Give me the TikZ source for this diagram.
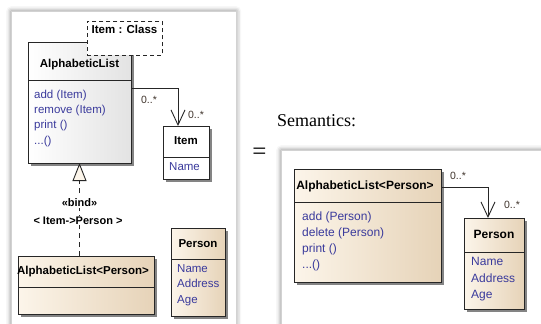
\documentclass[tikz,border=0pt]{standalone}
\usepackage{fontspec}
\setmainfont{Liberation Sans}
\newfontfamily\serifface{Liberation Serif}
\usetikzlibrary{shadows,shadows.blur,arrows.meta}
\definecolor{meth}{HTML}{3A3A9C}
\definecolor{beigeL}{HTML}{FCF5EA}
\definecolor{beigeR}{HTML}{E6D3B8}
\definecolor{mult}{HTML}{40342C}
\tikzset{
  panel/.style={draw=gray!35, fill=white, line width=0.4pt,
    blur shadow={shadow xshift=0pt, shadow yshift=0pt, shadow blur radius=5pt, shadow opacity=50}},
  cbox/.style={draw=black!85, line width=0.9pt, anchor=north west, inner sep=0pt, outer sep=0pt,
    drop shadow={shadow xshift=2.5pt, shadow yshift=-2.5pt, fill=black!60, opacity=0.8}},
  greybox/.style={cbox, left color=white, right color=gray!22},
  whitebox/.style={cbox, fill=white},
  beigebox/.style={cbox, left color=beigeL, right color=beigeR},
  divider/.style={draw=black!85, line width=0.9pt},
  ttl/.style={font=\fontsize{11.5}{13}\selectfont\bfseries, anchor=mid, inner sep=0pt},
  ttlR/.style={font=\fontsize{12}{14}\selectfont\bfseries, anchor=mid, inner sep=0pt},
  mth/.style={font=\fontsize{11.5}{13}\selectfont, text=meth, anchor=mid west, inner sep=0pt},
  mthR/.style={font=\fontsize{12}{14}\selectfont, text=meth, anchor=mid west, inner sep=0pt},
  multl/.style={font=\fontsize{10.5}{12}\selectfont, text=mult, inner sep=0pt},
  assoc/.style={draw=black!85, line width=0.9pt, -{Straight Barb[length=15pt, width=14pt, line width=0.9pt]}},
  realz/.style={draw=black!85, line width=0.9pt, dashed, dash pattern=on 5pt off 4pt,
    -{Triangle[length=18pt, width=14pt, fill=beigeL, line width=0.9pt]}},
  blab/.style={font=\fontsize{11}{13}\selectfont\bfseries, fill=white, inner sep=1pt},
}
\begin{document}
\begin{tikzpicture}[x=1pt,y=-1pt]
\useasboundingbox (0,0) rectangle (541,324);
% panels
\node[panel, anchor=north west, minimum width=225pt, minimum height=330pt, inner sep=0pt] (lpanel) at (11,11) {};
\node[panel, anchor=north west, minimum width=280pt, minimum height=190pt, inner sep=0pt] (rpanel) at (281,150) {};

% ---------- left ----------
\node[greybox, minimum width=103pt, minimum height=121pt] (al) at (28,42) {};
\draw[divider] (al.west |- 0,80) -- (al.east |- 0,80);
\node[ttl] (alT) at (79.5,64.5) {AlphabeticList};
\node[mth] (al1) at (34,96) {add (Item)};
\node[mth] (al2) at (34,111) {remove (Item)};
\node[mth] (al3) at (34,126) {print ()};
\node[mth] (al4) at (34,142) {...()};

\node[draw=black!85, line width=0.9pt, dashed, dash pattern=on 4pt off 3pt, fill=white,
      anchor=north west, minimum width=75pt, minimum height=34pt, inner sep=0pt] (tpl) at (87,21) {};
\node[ttl] (tplT) at (124.5,31) {Item : Class};

\node[whitebox, minimum width=46pt, minimum height=53pt] (item) at (163,126) {};
\draw[divider] (item.west |- 0,157) -- (item.east |- 0,157);
\node[ttl] (itemT) at (186,142) {Item};
\node[mth] (item1) at (169,168) {Name};

\draw[assoc] (al.east |- 0,88) -| ([xshift=-8pt]item.north);
\node[multl] (m1) at (149,100) {0..*};
\node[multl] (m2) at (196,115) {0..*};

\node[beigebox, minimum width=136pt, minimum height=58pt] (alp) at (18,256) {};
\draw[divider] (alp.west |- 0,287) -- (alp.east |- 0,287);
\node[ttl] (alpT) at (83,272) {AlphabeticList<Person>};

\node[beigebox, minimum width=54pt, minimum height=88pt] (per) at (171,228) {};
\draw[divider] (per.west |- 0,259) -- (per.east |- 0,259);
\node[ttl] (perT) at (198,245) {Person};
\node[mth] (per1) at (177,270) {Name};
\node[mth] (per2) at (177,285) {Address};
\node[mth] (per3) at (177,301) {Age};

\draw[realz] (alp.north -| al.south) -- (al.south);
\node[blab] (bind) at (79.5,202.5) {«bind»};
\node[blab] (bindarg) at (78,220.5) {< Item->Person >};

% ---------- right ----------
\node[font=\serifface\fontsize{25}{27}\selectfont, inner sep=0pt] (eq) at (259.5,154) {=};
\node[font=\serifface\fontsize{18}{20}\selectfont, anchor=west, inner sep=0pt] (sem) at (277,121) {Semantics:};

\node[beigebox, minimum width=147pt, minimum height=113pt] (alR) at (294,169) {};
\draw[divider] (alR.west |- 0,202) -- (alR.east |- 0,202);
\node[ttlR] (alRT) at (365,187) {AlphabeticList<Person>};
\node[mthR] (alR1) at (302,218) {add (Person)};
\node[mthR] (alR2) at (302,234) {delete (Person)};
\node[mthR] (alR3) at (302,250) {print ()};
\node[mthR] (alR4) at (302,266) {...()};

\node[beigebox, minimum width=60pt, minimum height=91pt] (pR) at (464,218) {};
\draw[divider] (pR.west |- 0,252) -- (pR.east |- 0,252);
\node[ttlR] (pRT) at (494,236) {Person};
\node[mthR] (pR1) at (471,263) {Name};
\node[mthR] (pR2) at (471,279.5) {Address};
\node[mthR] (pR3) at (471,296) {Age};

\draw[assoc] (alR.east |- 0,187) -| ([xshift=-6pt]pR.north);
\node[multl] (m3) at (458,176) {0..*};
\node[multl] (m4) at (512,205) {0..*};
\end{tikzpicture}
\end{document}
